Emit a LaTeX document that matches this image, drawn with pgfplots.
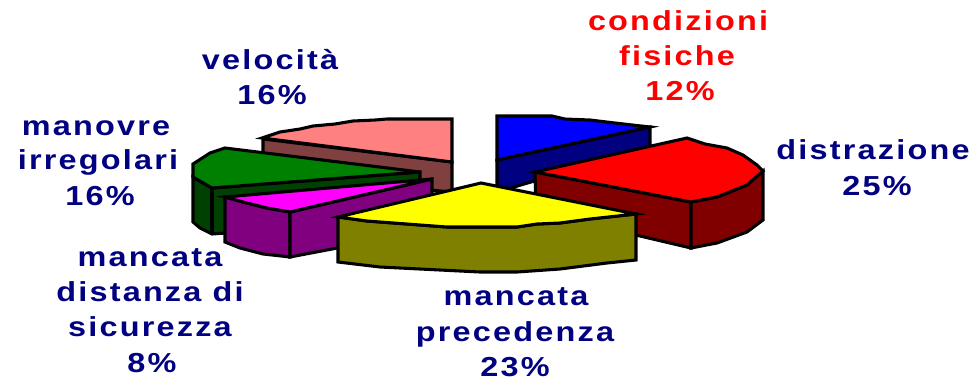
\documentclass[border=0pt]{standalone}
\usepackage{pgfplots}
\pgfplotsset{compat=1.18}
\usepackage{fontspec}
\setmainfont{Liberation Sans}[FakeStretch=1.18,LetterSpace=8]
\definecolor{navy}{HTML}{000080}
\definecolor{pinktop}{HTML}{FF8080}
\definecolor{pinkside}{HTML}{804040}
\definecolor{greentop}{HTML}{008000}
\definecolor{greenside}{HTML}{004000}
\definecolor{magtop}{HTML}{FF00FF}
\definecolor{magside}{HTML}{800080}
\definecolor{yeltop}{HTML}{FFFF00}
\definecolor{yelside}{HTML}{808000}
\definecolor{redtop}{HTML}{FF0000}
\definecolor{redside}{HTML}{800000}
\definecolor{bluetop}{HTML}{0000FF}
\definecolor{blueside}{HTML}{000080}
\newcommand{\lab}[4]{\node[anchor=base,inner sep=0pt,text=#1,font=\fontsize{20.6pt}{20.6pt}\bfseries] at (axis cs:#2,#3) {#4};}
\begin{document}
\begin{tikzpicture}
\useasboundingbox (0,0) rectangle (732.75pt,285pt);
\begin{axis}[
  at={(0,0)},anchor=south west,
  scale only axis,width=732.75pt,height=285pt,
  xmin=0,xmax=977,ymin=0,ymax=380,y dir=reverse,
  hide axis,clip=false,
  every axis plot/.append style={draw=black,line width=2.3pt,no markers,sharp plot},
]
% velocita
\addplot[fill=pinkside] coordinates {(263,139)(452,162)(452,192)(263,175)} --cycle;
\addplot[fill=pinktop] coordinates {(262,138)(280,132)(300,129)(313,126)(335,124)(353,121)(375,120)(387,119)(452,119)(452,162)} --cycle;
% manovre
\addplot[fill=greenside] coordinates {(193,177)(193,222)(200,228)(212,234)(240,232)(420,180)(420,172)(212,188)} --cycle;
\addplot[draw=black] coordinates {(212,188)(212,234)};
\addplot[fill=greentop] coordinates {(420,172)(225,148)(210,153)(193,164)(193,177)(212,188)} --cycle;
% blue
\addplot[fill=blueside] coordinates {(497,160)(650,127)(650,147)(497,192)} --cycle;
\addplot[fill=bluetop] coordinates {(497,116)(552,116)(565,119)(590,120)(615,123)(650,127)(497,160)} --cycle;
% red
\addplot[fill=redside] coordinates {(535,172)(691,202)(691,248)(640,236)(536,214)} --cycle;
\addplot[fill=redside] coordinates {(691,202)(717,197)(747,185)(763,171)(763,220)(747,232)(717,243)(691,248)} --cycle;
\addplot[fill=redtop] coordinates {(535,172)(687,138)(705,144)(727,148)(743,155)(757,165)(763,171)(747,185)(717,197)(691,202)} --cycle;
% magenta
\addplot[fill=magside] coordinates {(225,197)(247,203)(267,208)(290,212)(290,257)(263,254)(240,248)(225,242)} --cycle;
\addplot[fill=magside] coordinates {(290,212)(432,179)(432,193)(432,230)(290,257)} --cycle;
\addplot[fill=magtop] coordinates {(225,197)(247,203)(267,208)(290,212)(432,179)} --cycle;
% yellow
\addplot[fill=yelside] coordinates {(338,217)(367,221)(407,224)(447,227)(480,227)(517,227)(537,224)(560,223)(590,219)(636,214)(636,260)(607,263)(560,269)(517,272)(480,272)(440,270)(380,267)(338,262)} --cycle;
\addplot[fill=yeltop] coordinates {(338,217)(481,183)(636,214)(590,219)(560,223)(537,224)(517,227)(480,227)(447,227)(407,224)(367,221)} --cycle;
% labels
\lab{red}{678}{30}{condizioni}
\lab{red}{677}{65}{fisiche}
\lab{red}{680}{100}{12\%}
\lab{navy}{873}{159}{distrazione}
\lab{navy}{877}{195}{25\%}
\lab{navy}{516}{305}{mancata}
\lab{navy}{515}{341}{precedenza}
\lab{navy}{515}{376}{23\%}
\lab{navy}{150}{266}{mancata}
\lab{navy}{150}{301}{distanza di}
\lab{navy}{150}{336}{sicurezza}
\lab{navy}{152}{372}{8\%}
\lab{navy}{96}{135}{manovre}
\lab{navy}{98}{169}{irregolari}
\lab{navy}{100}{205}{16\%}
\lab{navy}{270}{69}{velocità}
\lab{navy}{272}{104}{16\%}
\end{axis}
\end{tikzpicture}
\end{document}
